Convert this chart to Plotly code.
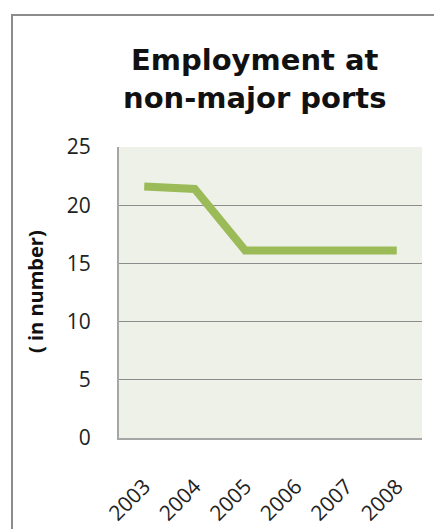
import plotly.graph_objects as go

years = ["2003", "2004", "2005", "2006", "2007", "2008"]
employment = [21.6, 21.4, 16.1, 16.1, 16.1, 16.1]
y_ticks = [0, 5, 10, 15, 20, 25]
title_text = "Employment at<br>non-major ports"

OFF = 8  # default page body margin
W, H = 442 - OFF, 529 - OFF
L, R, T, B = 119 - OFF, 20, 147 - OFF, 91
pw, ph = W - L - R, H - T - B

fig = go.Figure()
fig.add_trace(go.Scatter(
    x=years, y=employment, mode="lines",
    line=dict(color="#9BBB59", width=8),
    hoverinfo="skip", showlegend=False,
))

fig.update_layout(
    width=W, height=H,
    margin=dict(l=L, r=R, t=T, b=B),
    paper_bgcolor="white",
    plot_bgcolor="#EEF1E8",
    font=dict(family="Open Sans, Liberation Sans, sans-serif", color="#222"),
    xaxis=dict(
        type="category", tickangle=-45, range=[-0.5, 5.5],
        tickfont=dict(size=21),
        showgrid=False, showline=True, linecolor="#A6A6A6", linewidth=2,
        ticks="", mirror=False, ticklabelstandoff=26, automargin=False,
    ),
    yaxis=dict(
        range=[0, 25], tickvals=y_ticks,
        tickfont=dict(size=21),
        showgrid=True, gridcolor="#8C8C8C", gridwidth=1,
        showline=True, linecolor="#A6A6A6", linewidth=2,
        zeroline=False, ticks="", ticklen=0, ticklabelstandoff=22,
        automargin=False,
    ),
    shapes=[dict(
        type="rect", xref="paper", yref="paper",
        x0=(12 - OFF - L) / pw, x1=2, y0=-1, y1=1 + (T - (15 - OFF)) / ph,
        line=dict(color="#8C8C8C", width=2), fillcolor="rgba(0,0,0,0)",
        layer="below",
    )],
    annotations=[
        dict(
            text=f"<b>{title_text}</b>",
            xref="paper", yref="paper",
            x=(254 - OFF - L) / pw, y=1 + (T - (79 - OFF)) / ph,
            xanchor="center", yanchor="middle", showarrow=False,
            font=dict(size=29, color="#111", family="DejaVu Sans, sans-serif"),
        ),
        dict(
            text="<b>( in number)</b>",
            xref="paper", yref="paper",
            x=(35 - OFF - L) / pw, y=(H - B - (291 - OFF)) / ph,
            xanchor="center", yanchor="middle", showarrow=False,
            textangle=-90,
            font=dict(size=20, color="#111"),
        ),
    ],
)

fig.write_html("out.html")
